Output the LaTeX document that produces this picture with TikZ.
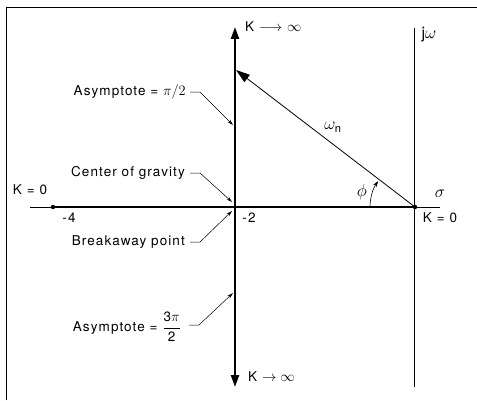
\documentclass[tikz,border=0pt]{standalone}
\usepackage{amsmath}
\usepackage{fontspec}
\setmainfont{TeX Gyre Heros}[LetterSpace=8]
\usetikzlibrary{arrows.meta}

\begin{document}
\begin{tikzpicture}[x=1pt,y=1pt,font=\fontsize{13.5}{16}\selectfont,
  ax/.style={line width=2.2pt},
  axa/.style={ax,{Triangle[length=12pt,width=8pt]}-{Triangle[length=12pt,width=8pt]}},
  thn/.style={line width=0.6pt},
  ldr/.style={line width=0.5pt,-{Stealth[length=6pt,width=3.5pt]}},
  lb/.style={inner sep=1pt},
  gk/.style={lb,font=\fontsize{16}{18}\selectfont}]
\useasboundingbox (0,0) rectangle (477,400);
% frame
\draw[thn] (6,0) -- (6,393) -- (477,393);
% points of the plane
\coordinate (O) at (415,193);
\coordinate (p4) at (53,193);
\coordinate (kt) at (235,373);
\coordinate (kb) at (235,13);
\coordinate (wn) at (236,330);
\coordinate (rl) at (30,193);
\coordinate (rr) at (440,193);
\coordinate (jt) at (414,372);
\coordinate (jb) at (414,13);
\coordinate (la1) at (233,275);
\coordinate (lcg) at (232,198);
\coordinate (lbk) at (232,189);
\coordinate (la3) at (233,107);
% axes and locus
\draw[thn] (rl) -- (rr);
\draw[thn] (jb) -- (jt);
\draw[ax] (p4) -- (O);
\draw[axa] (kb) -- (kt);
\fill (p4) circle (2.2pt) (O) circle (2.2pt);
\draw[line width=0.8pt,-{Triangle[length=14pt,width=9pt]}] (O) -- (wn);
\draw[thn,-{Stealth[length=6pt,width=4pt]}] ([shift={(180:45)}]O)
  arc[start angle=180,end angle=145,radius=45];
% labels
\node[lb,anchor=west] (ktop) at (244,373) {K $\longrightarrow$ $\infty$};
\node[lb,anchor=west] (kbot) at (247,23) {K $\rightarrow\infty$};
\node[gk] (jw) at (429,365) {j$\omega$};
\node[gk] (sg) at (440,206) {$\sigma$};
\node[lb] (k0r) at (440,182) {K = 0};
\node[lb] (k0l) at (30,210) {K = 0};
\node[lb] (m4) at (69,182) {-4};
\node[lb] (m2) at (249,182) {-2};
\node[gk] (wl) at (333,273) {$\omega_{\text{n}}$};
\node[gk] (ph) at (362,208) {$\phi$};
\node[lb,anchor=east] (apl) at (187,308) {Asymptote = $\pi/2$};
\node[lb,anchor=east] (cog) at (186,227) {Center of gravity};
\node[lb,anchor=east] (brk) at (186,158) {Breakaway point};
\node[lb,anchor=east] (a3p) at (182,73) {Asymptote = $\dfrac{\text{3}\pi}{\text{2}}$};
% leaders
\draw[ldr] ([xshift=3pt]apl.east) -- ++(10,0) -- (la1);
\draw[ldr] ([xshift=4pt]cog.east) -- ++(10,0) -- (lcg);
\draw[ldr] ([xshift=4pt]brk.east) -- ++(10,0) -- (lbk);
\draw[ldr] ([xshift=7pt,yshift=2pt]a3p.east) -- ++(10,0) -- (la3);
\end{tikzpicture}
\end{document}
